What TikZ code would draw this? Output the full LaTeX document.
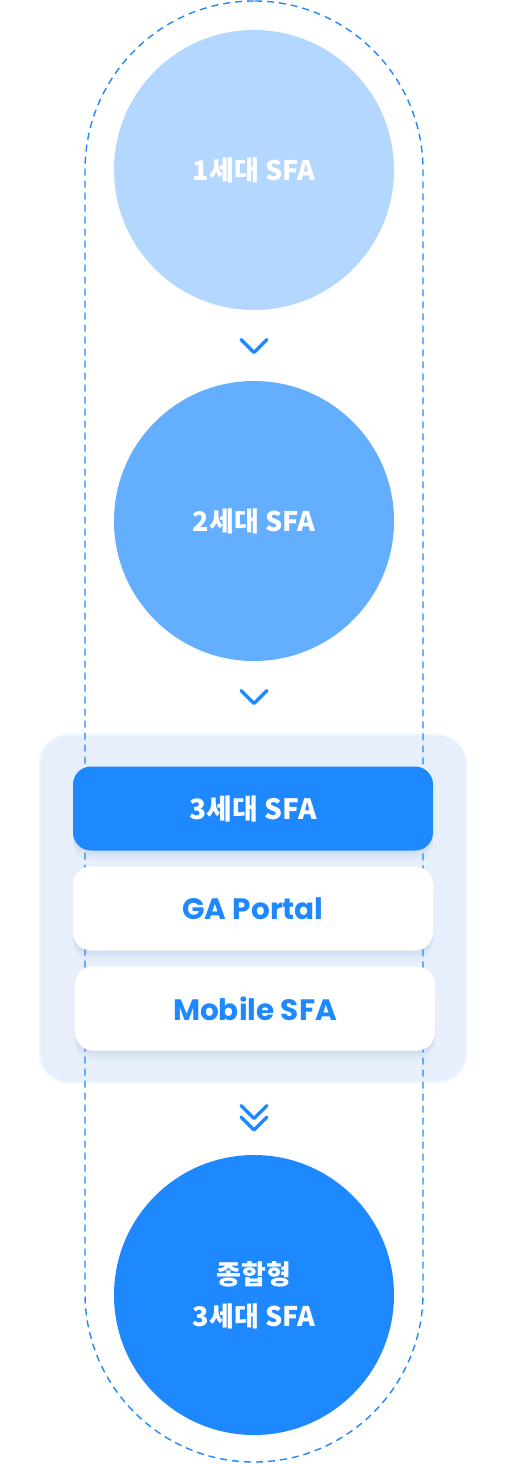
\documentclass[tikz,border=0pt]{standalone}
\usepackage{fontspec}
\setmainfont{Poppins}
\newfontfamily\kr{Noto Sans CJK KR}
\usetikzlibrary{positioning}
\definecolor{sfablue}{HTML}{1E88FF}
\definecolor{sfasky}{HTML}{B3D7FF}
\definecolor{sfamid}{HTML}{63AEFF}
\definecolor{panelbg}{HTML}{E7EFFC}
\definecolor{shadebg}{HTML}{6F8DC0}
\tikzstyle{gen} = [circle, 
minimum size=280pt, 
inner sep=0pt, 
text=white, 
align=center, 
font=\kr\bfseries\fontsize{27}{42}\selectfont]
\tikzstyle{item} = [rectangle, rounded corners=18pt, 
minimum width=360pt, 
minimum height=84pt, 
text centered, 
fill=white, 
text=sfablue, 
font=\bfseries\fontsize{29.5}{30}\selectfont, 
preaction={fill=shadebg, fill opacity=0.05, transform canvas={yshift=-10pt}}, 
preaction={fill=shadebg, fill opacity=0.06, transform canvas={yshift=-6pt}}, 
preaction={fill=shadebg, fill opacity=0.07, transform canvas={yshift=-3pt}}]
\tikzstyle{panel} = [rectangle, rounded corners=28pt, 
minimum width=426pt, 
minimum height=347pt, 
fill=panelbg, 
draw=sfablue!8, 
line width=2pt]
\tikzstyle{track} = [rectangle, rounded corners=169pt, 
minimum width=338pt, 
minimum height=1461pt, 
draw=sfablue, 
line width=1.4pt, 
dash pattern=on 7pt off 5pt]
\tikzstyle{spot} = [inner sep=0pt, minimum size=0pt]
\tikzstyle{chev} = [draw=sfablue, line width=3.3pt, line cap=round, line join=round]

\begin{document}
\begin{tikzpicture}[x=1pt, y=1pt, node distance=351pt]
\useasboundingbox (0,0) rectangle (506,-1464);

\node (gen1) [gen, fill=sfasky] at (254,-170) {1세대 SFA};
\node (gen2) [gen, below of=gen1, fill=sfamid] {2세대 SFA};
\node (panel) [panel, below of=gen2, node distance=387.5pt, xshift=-1pt] {};
\node (track) [track] at (254,-731.5) {};

\node (portal) [item] at (panel.center) {GA Portal};
\node (gen3) [item, above of=portal, node distance=100pt, fill=sfablue, text=white, font=\kr\bfseries\fontsize{28}{30}\selectfont] {3세대 SFA};
\node (mobile) [item, below of=portal, node distance=100pt, xshift=2pt] {Mobile SFA};

\node (gen4) [gen, below of=panel, node distance=386.5pt, xshift=1pt, fill=sfablue] {종합형\\3세대 SFA};

% chevrons between steps
\node (down1) [spot, below of=gen1, node distance=176pt] {};
\node (down2) [spot, below of=gen2, node distance=176pt] {};
\node (down3) [spot, below of=panel, node distance=209pt, xshift=1pt] {};
\draw[chev] (down1.center) ++(-13,6.5) -- ++(13,-13) -- ++(13,13);
\draw[chev] (down2.center) ++(-13,6.5) -- ++(13,-13) -- ++(13,13);
\draw[chev] (down3.center) ++(-13,12) -- ++(13,-13) -- ++(13,13);
\draw[chev] (down3.center) ++(-13,0.5) -- ++(13,-13) -- ++(13,13);

\end{tikzpicture}
\end{document}
